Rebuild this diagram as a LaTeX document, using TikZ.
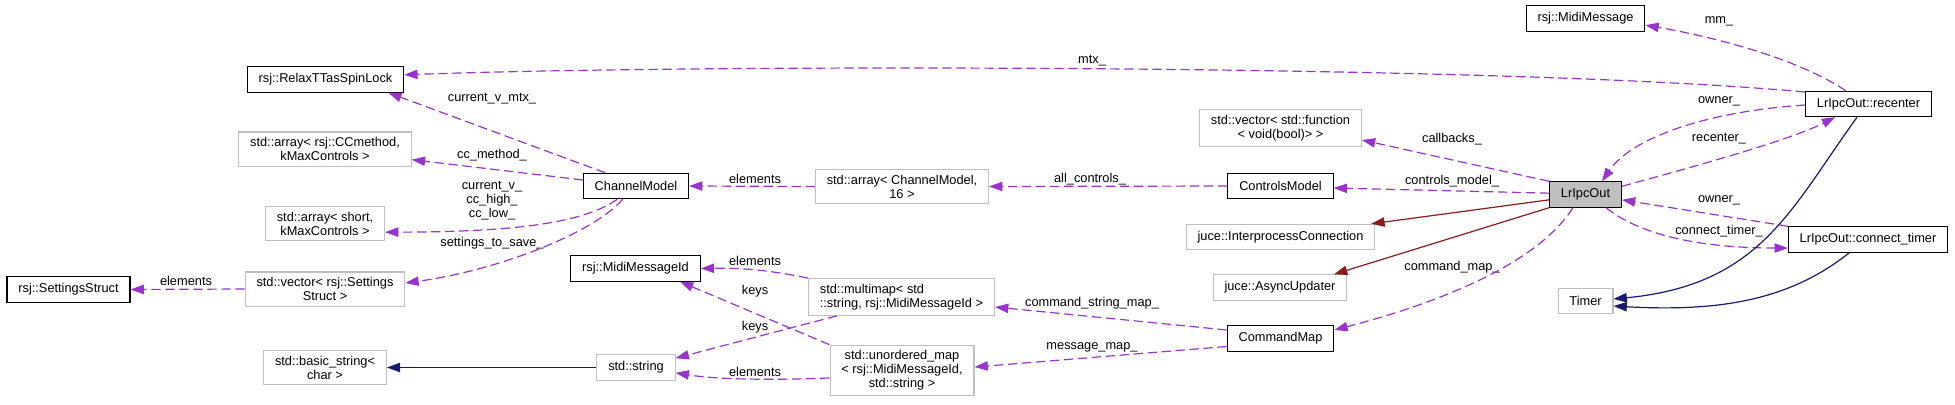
\documentclass[tikz,border=0pt]{standalone}
\usepackage{fontspec}
\setmainfont{Liberation Sans}
\usetikzlibrary{arrows.meta}
\definecolor{usecol}{HTML}{9A32CD}
\definecolor{pubcol}{HTML}{191970}
\definecolor{protcol}{HTML}{8B1A1A}
\definecolor{boxgrey}{HTML}{BFBFBF}
\tikzset{
  every node/.style={font=\fontsize{9.6}{10.5}\selectfont},
  cls/.style={draw=black, line width=0.8pt, inner xsep=8.5pt, inner ysep=4pt, minimum height=19pt},
  ext/.style={cls, draw=boxgrey},
  cur/.style={cls, fill=boxgrey},
  lbl/.style={inner sep=0pt},
  usage/.style={draw=usecol, line width=0.9pt, dash pattern=on 7pt off 3.5pt, -{Triangle[length=10pt,width=7pt]}},
  pub/.style={draw=pubcol, line width=0.9pt, -{Triangle[length=10pt,width=7pt]}},
  prot/.style={draw=protcol, line width=0.9pt, -{Triangle[length=10pt,width=7pt]}}
}

\begin{document}
\begin{tikzpicture}[x=0.75pt, y=-0.75pt]
\useasboundingbox (0,0) rectangle (1955,404);
% classes
\node[cls] (midiMsg) at (1585.5,18.5) {rsj::MidiMessage};
\node[cls] (spinLock) at (325.5,79.5) {rsj::RelaxTTasSpinLock};
\node[cls] (recenter) at (1868.5,104) {LrIpcOut::recenter};
\node[ext, align=center] (vecFunc) at (1280.5,128) {std::vector< std::function\\< void(bool)> >};
\node[ext, align=center] (arrCC) at (325,149) {std::array< rsj::CCmethod,\\kMaxControls >};
\node[cls] (chanModel) at (636,186) {ChannelModel};
\node[ext, align=center] (arrChan) at (902,186.5) {std::array< ChannelModel,\\16 >};
\node[cls] (ctrlModel) at (1280.5,186) {ControlsModel};
\node[cur] (lrIpc) at (1585.5,194.5) {LrIpcOut};
\node[ext, align=center] (arrShort) at (325,223.5) {std::array< short,\\kMaxControls >};
\node[ext] (juceIpc) at (1280.5,237) {juce::InterprocessConnection};
\node[cls] (connTimer) at (1868,239.5) {LrIpcOut::connect\_timer};
\node[cls] (settings) at (68.5,289.5) {rsj::SettingsStruct};
\node[ext, align=center] (vecSettings) at (325,289) {std::vector< rsj::Settings\\Struct >};
\node[cls] (msgId) at (635.5,268.5) {rsj::MidiMessageId};
\node[ext, align=left] (multimap) at (901.5,297) {std::multimap< std\\::string, rsj::MidiMessageId >};
\node[ext] (juceAsync) at (1280,287.5) {juce::AsyncUpdater};
\node[ext] (timer) at (1585.5,301) {Timer};
\node[cls] (cmdMap) at (1280.5,338.5) {CommandMap};
\node[ext, align=center] (basicStr) at (325,367.5) {std::basic\_string<\\char >};
\node[ext] (stdString) at (636,367.5) {std::string};
\node[ext, align=center] (unordMap) at (902,370.5) {std::unordered\_map\\< rsj::MidiMessageId,\\std::string >};

% member labels
\node[lbl] (lMm) at (1719,21) {mm\_};
\node[lbl] (lMtx) at (1092,61) {mtx\_};
\node[lbl] (lOwnerA) at (1719,101) {owner\_};
\node[lbl] (lCurMtx) at (492,99) {current\_v\_mtx\_};
\node[lbl] (lCallbacks) at (1452,139) {callbacks\_};
\node[lbl] (lRecenter) at (1719,139) {recenter\_};
\node[lbl] (lCcMethod) at (492,155) {cc\_method\_};
\node[lbl] (lElemChan) at (755,179) {elements};
\node[lbl] (lAllCtrl) at (1090,179) {all\_controls\_};
\node[lbl] (lCtrlModel) at (1452,181) {controls\_model\_};
\node[lbl, align=center] (lCurV) at (492,201) {current\_v\_\\cc\_high\_\\cc\_low\_};
\node[lbl] (lOwnerB) at (1719,200) {owner\_};
\node[lbl] (lConnTimer) at (1719,231) {connect\_timer\_};
\node[lbl] (lSettings) at (492,243) {settings\_to\_save\_};
\node[lbl] (lElemSet) at (186,281) {elements};
\node[lbl] (lElemId) at (755,261) {elements};
\node[lbl] (lCmdMap) at (1452,267) {command\_map\_};
\node[lbl] (lKeysA) at (755,291) {keys};
\node[lbl] (lCmdStr) at (1092,303) {command\_string\_map\_};
\node[lbl] (lKeysB) at (755,327) {keys};
\node[lbl] (lMsgMap) at (1092,347) {message\_map\_};
\node[lbl] (lElemStr) at (755,372) {elements};

% usage
\draw[usage] ([xshift=-17pt]recenter.north) .. controls (1800,60) and (1720,38) .. ([yshift=-5pt]midiMsg.east);
\draw[usage] ([yshift=9pt]recenter.west) .. controls (1500,64) and (700,64) .. ([yshift=3.5pt]spinLock.east);
\draw[usage] ([yshift=-0.75pt]recenter.west) .. controls (1700,112) and (1630,140) .. ([xshift=12.4pt]lrIpc.north);
\draw[usage] ([yshift=-3.75pt]lrIpc.north east) .. controls (1700,165) and (1790,140) .. ([xshift=-25pt]recenter.south);
\draw[usage] (lrIpc.north west) -- ([yshift=-9pt]vecFunc.east);
\draw[usage] ([yshift=1pt]lrIpc.west) -- ([yshift=-1.5pt]ctrlModel.east);
\draw[usage] (ctrlModel.west) -- (arrChan.east);
\draw[usage] (arrChan.west) -- (chanModel.east);
\draw[usage] ([xshift=-23pt]chanModel.north) -- ([xshift=-12pt]spinLock.south east);
\draw[usage] ([yshift=4.5pt]chanModel.west) -- ([yshift=-8pt]arrCC.east);
\draw[usage] ([xshift=-14pt]chanModel.south) .. controls (585,222) and (520,232) .. ([yshift=-6.5pt]arrShort.east);
\draw[usage] ([xshift=-10pt]chanModel.south) .. controls (595,232) and (500,270) .. ([yshift=4.5pt]vecSettings.east);
\draw[usage] (vecSettings.west) -- (settings.east);
\draw[usage] ([xshift=-9.4pt]lrIpc.south) .. controls (1540,260) and (1450,300) .. ([yshift=6.4pt]cmdMap.east);
\draw[usage] (connTimer.north west) -- ([yshift=-4pt]lrIpc.east);
\draw[usage] ([xshift=15.4pt]lrIpc.south) .. controls (1640,235) and (1700,248) .. ([yshift=-6.4pt]connTimer.west);
\draw[usage] ([yshift=6.4pt]cmdMap.west) -- ([yshift=-7.5pt]multimap.east);
\draw[usage] ([yshift=-6pt]cmdMap.west) -- ([yshift=2.6pt]unordMap.east);
\draw[usage] (multimap.north west) .. controls (760,268) and (730,268) .. (msgId.east);
\draw[usage] (unordMap.north west) -- ([xshift=33.4pt]msgId.south);
\draw[usage] ([xshift=-48.4pt]multimap.south) -- ([yshift=7pt]stdString.east);
\draw[usage] ([yshift=-5.6pt]unordMap.west) .. controls (780,380) and (720,380) .. ([yshift=-4pt]stdString.east);

% inheritance
\draw[prot] ([yshift=-4pt]lrIpc.west) -- ([xshift=-3pt]juceIpc.north east);
\draw[prot] (lrIpc.south west) -- ([xshift=-10pt]juceAsync.north east);
\draw[pub] ([xshift=-8.6pt]recenter.south) .. controls (1790,210) and (1760,285) .. ([yshift=1.5pt]timer.east);
\draw[pub] ([xshift=-14pt]connTimer.south) .. controls (1790,300) and (1720,312) .. ([yshift=-3.75pt]timer.east);
\draw[pub] (stdString.west) -- (basicStr.east);
\end{tikzpicture}
\end{document}
